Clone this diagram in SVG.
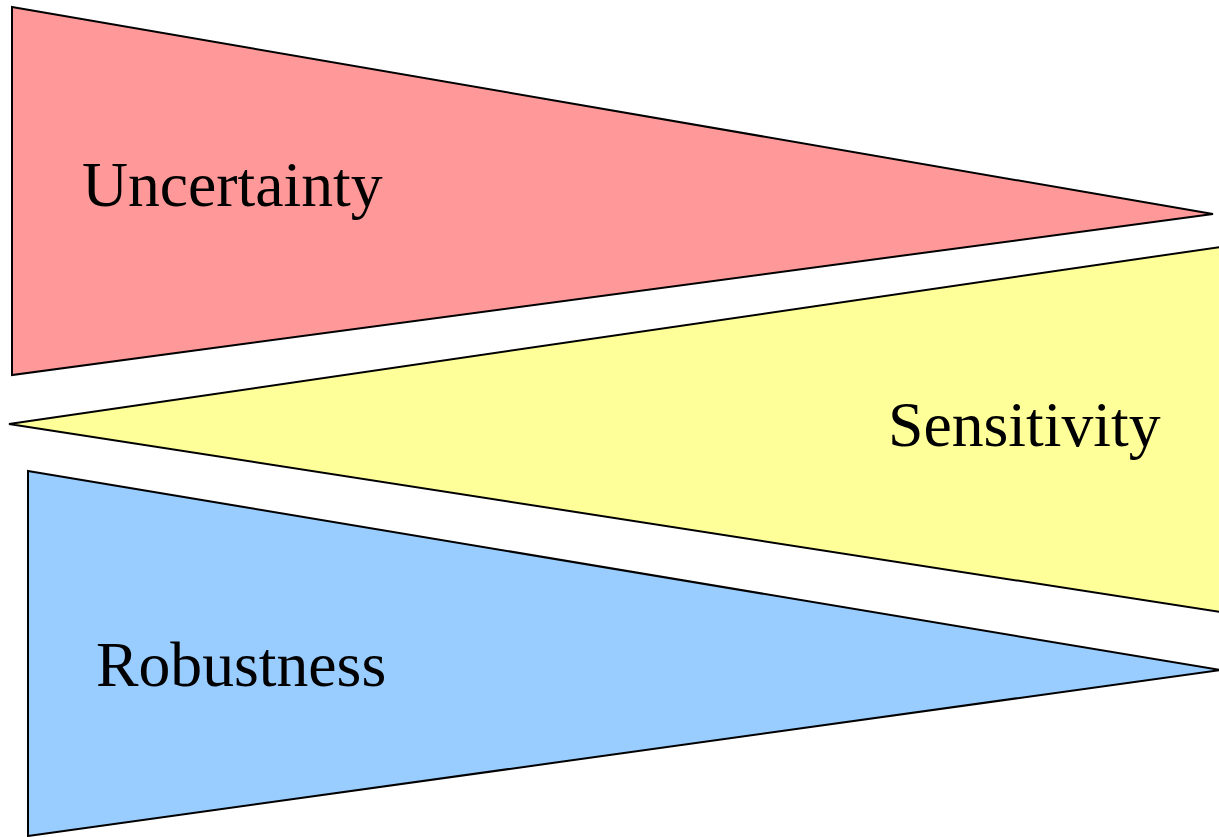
<svg xmlns="http://www.w3.org/2000/svg" width="1219" height="837" viewBox="0 0 1219 837">
<style>
.shape{stroke:#000;stroke-width:2;stroke-linejoin:miter}
.label{font-family:"Liberation Serif","Times New Roman",serif;font-size:63.7px;fill:#000}
</style>
<rect width="1219" height="837" fill="#fff"/>
<g id="uncertainty">
<polygon class="shape" fill="#ff9999" points="12,7 1213,214 12,375"/>
<text class="label" x="82" y="206">Uncertainty</text>
</g>
<g id="sensitivity">
<polygon class="shape" fill="#ffff99" points="9,424 1220,247 1220,612"/>
<text class="label" x="888" y="446">Sensitivity</text>
</g>
<g id="robustness">
<polygon class="shape" fill="#99ccff" points="28,471 1220,670 28,836"/>
<text class="label" x="96" y="686">Robustness</text>
</g>
<g id="connectors"/>
</svg>
